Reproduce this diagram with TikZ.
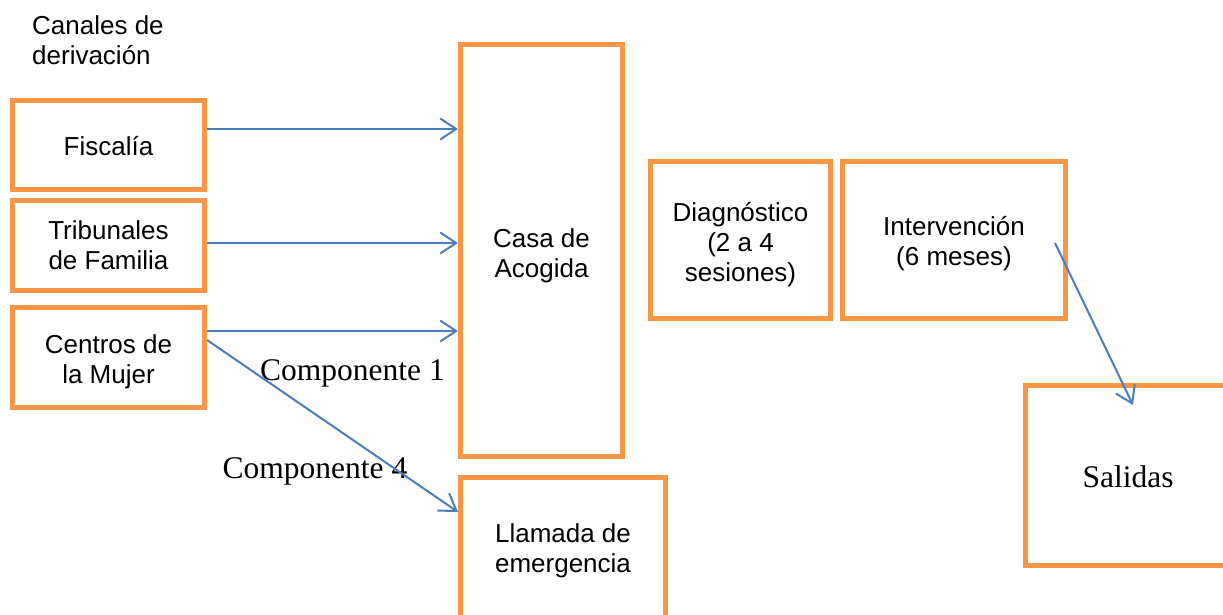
\documentclass[tikz,border=0pt]{standalone}
\usepackage{fontspec}
\setmainfont{Liberation Sans}
\newfontfamily\tnr{Liberation Serif}
\usetikzlibrary{arrows.meta}
\definecolor{boxor}{HTML}{F79646}
\definecolor{arrblue}{HTML}{4A7EBB}
\begin{document}
\begin{tikzpicture}[x=1pt,y=-1pt,
  box/.style={draw=boxor,line width=5pt,rectangle,inner sep=0pt},
  txt/.style={inner sep=0pt,align=center,font=\fontsize{26}{30}\selectfont},
  arr/.style={draw=arrblue,line width=2pt,-{Straight Barb[length=16pt,width=21pt,line width=2pt]}},
  serif/.style={font=\tnr\fontsize{31.5}{36}\selectfont,inner sep=0pt}]
\useasboundingbox (0,0) rectangle (1223,615);
\fill[white] (0,0) rectangle (1223,615);
% heading
\node[anchor=north west,inner sep=0pt,align=left,font=\fontsize{26}{30}\selectfont] (head) at (32,15) {Canales de\\derivación};
% left boxes
\node[box,minimum width=192pt,minimum height=89pt] (fisc) at (108.5,145) {};
\node[txt] (fisct) at ([yshift=-1pt]fisc.center) {Fiscalía};
\node[box,minimum width=192pt,minimum height=90pt] (trib) at (108.5,245.5) {};
\node[txt] (tribt) at (trib.center) {Tribunales\\de Familia};
\node[box,minimum width=192pt,minimum height=100pt] (cent) at (108.5,357.5) {};
\node[txt] (centt) at ([yshift=-4pt]cent.center) {Centros de\\la Mujer};
% middle
\node[box,minimum width=162pt,minimum height=412pt] (casa) at (541.5,250.5) {};
\node[txt] (casat) at ([yshift=-5pt]casa.center) {Casa de\\Acogida};
\node[box,minimum width=205pt,minimum height=141pt] (llam) at (563,548) {};
\node[txt] (llamt) at ([yshift=-3pt]llam.center) {Llamada de\\emergencia};
% right
\node[box,minimum width=180pt,minimum height=157pt] (diag) at (740.5,240) {};
\node[txt] (diagt) at ([yshift=-5pt]diag.center) {Diagnóstico\\(2 a 4\\sesiones)};
\node[box,minimum width=223pt,minimum height=157pt] (interv) at (954,240) {};
\node[txt] (intervt) at ([yshift=-3.5pt]interv.center) {Intervención\\(6 meses)};
\node[box,minimum width=205pt,minimum height=180pt] (sal) at (1128,475.5) {};
\node[serif,anchor=base] (salt) at (1128,487) {Salidas};
% labels
\node[serif,anchor=base] (comp1) at (352.5,380) {Componente 1};
\node[serif,anchor=base] (comp4) at (315,478) {Componente 4};
% arrows
\draw[arr] ([yshift=16pt]fisc.east) -- ([yshift=16pt]fisc.east -| casa.west);
\draw[arr] ([yshift=2.5pt]trib.east) -- ([yshift=2.5pt]trib.east -| casa.west);
\draw[arr] ([yshift=26.5pt]cent.east) -- ([yshift=26.5pt]cent.east -| casa.west);
\draw[arr] ([yshift=17.5pt]cent.east) -- ([yshift=36pt]llam.west);
\draw[arr] ([xshift=101pt,yshift=-3pt]interv.center) -- ([xshift=5pt,yshift=70.5pt]sal.center);
\end{tikzpicture}
\end{document}
